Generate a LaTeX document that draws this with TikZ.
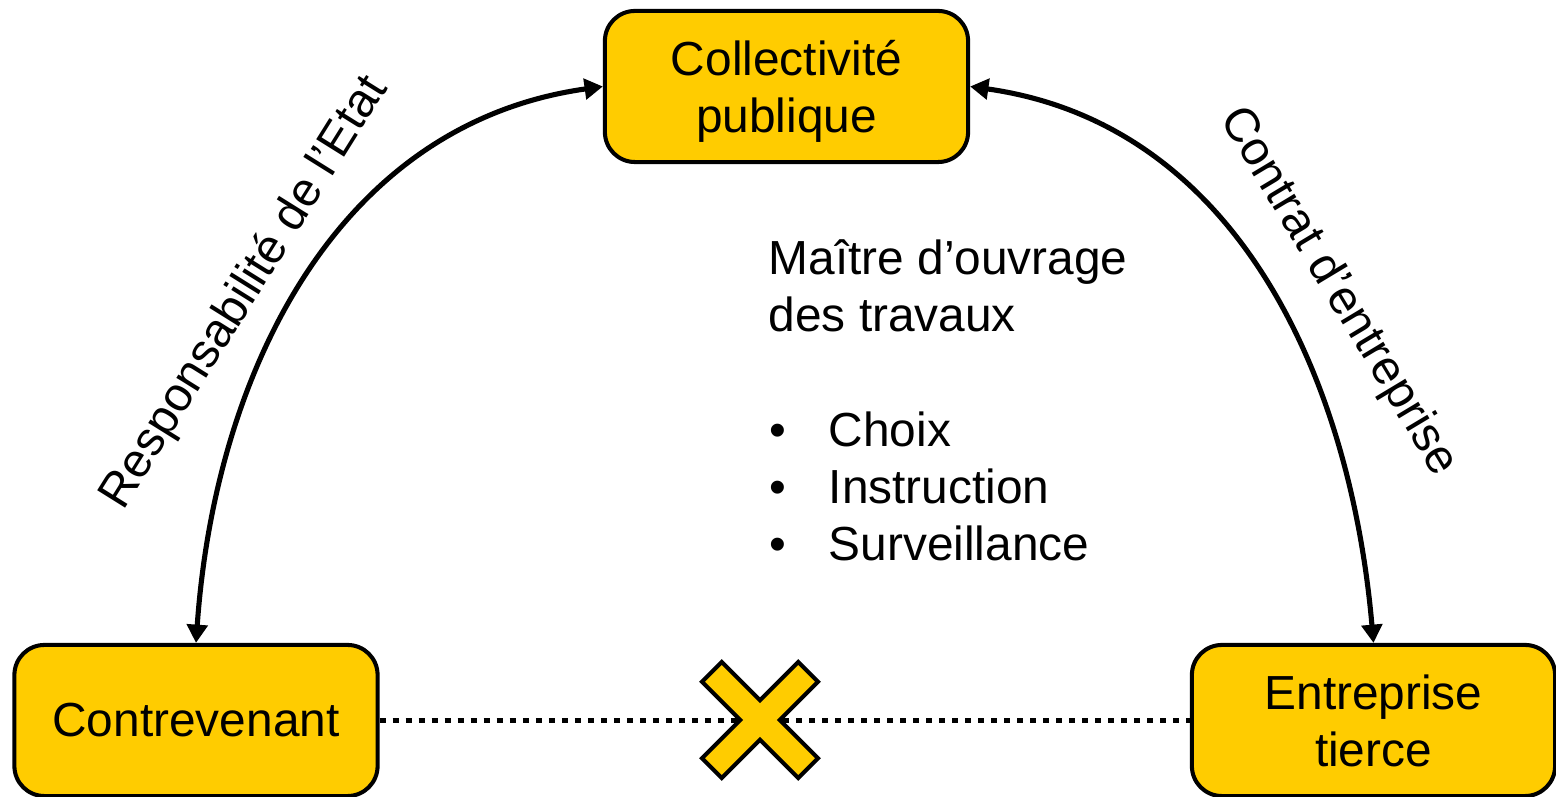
\documentclass[tikz,border=0pt]{standalone}
\usepackage{fontspec}
\setmainfont{Liberation Sans}
\usepackage{tikz}
\usetikzlibrary{arrows.meta}
\definecolor{boxyellow}{HTML}{FFCC00}
\newcommand{\bodyfont}{\fontsize{13.6}{16.2}\selectfont}

\begin{document}
\begin{tikzpicture}[x=0.01cm, y=0.01cm,
    box/.style={draw, fill=boxyellow, rounded corners=0.3cm, line width=1.15pt,
        minimum width=3.63cm, minimum height=1.51cm, align=center, font=\bodyfont},
    say/.style={font=\bodyfont, inner sep=0pt},
    link/.style={line width=1.45pt, {Triangle[length=5.2pt,width=5.8pt]}-{Triangle[length=5.2pt,width=5.8pt]}},
    dots/.style={line width=1.6pt, dash pattern=on 1.75pt off 1.95pt},
    xmark/.style={draw, fill=boxyellow, line width=1.15pt, line join=miter}]
    \useasboundingbox (0,0) rectangle (1556,797);
    \node[box] (coll) at (786.5,710.5) {\rule{0pt}{13pt}Collectivité\\publique};
    \node[box] (contr) at (196,76.5) {Contrevenant};
    \node[box] (entr) at (1373.5,76.5) {Entreprise\\tierce};
    \path[link]
    (contr.north) edge[out=86, in=188] (coll.west)
    (entr.north) edge[out=95, in=-8] (coll.east);
    \node[say, rotate=58] (resp) at (245,504) {Responsabilité de l’Etat};
    \node[say, rotate=-59] (contrat) at (1338,505) {Contrat d’entreprise};
    \node[say, anchor=base west] (mo1) at (768,522) {Maître d’ouvrage};
    \node[say, anchor=base west] (mo2) at (768,465) {des travaux};
    \foreach \txt/\yy [count=\i] in {Choix/350, Instruction/293, Surveillance/236} {
        \node[say, anchor=base west] (dot\i) at (769,\yy) {•};
        \node[say, anchor=base west] (item\i) at (828,\yy) {\txt};
    }
    \path[dots] (contr) edge (entr);
    \coordinate (cross) at (760,77);
    \draw[xmark, shift={(cross)}, rotate=45]
    (68,14) -- (14,14) -- (14,68) -- (-14,68) -- (-14,14) -- (-68,14)
    -- (-68,-14) -- (-14,-14) -- (-14,-68) -- (14,-68) -- (14,-14) -- (68,-14) -- cycle;
\end{tikzpicture}
\end{document}
